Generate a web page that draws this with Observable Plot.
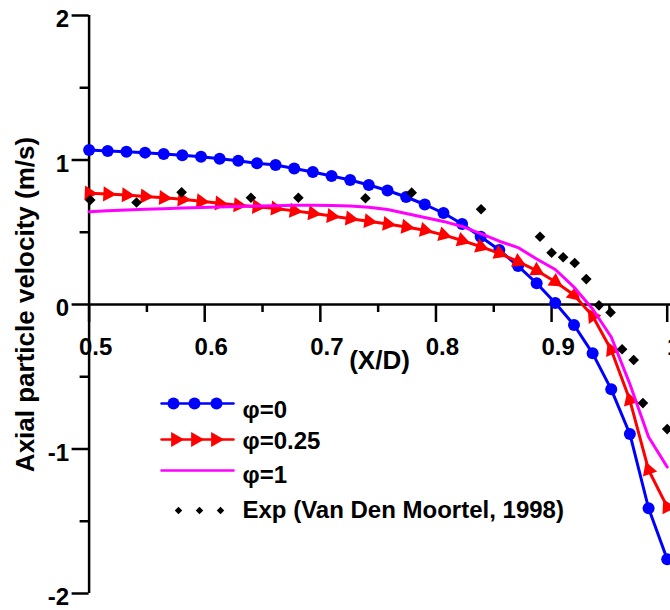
<!DOCTYPE html>
<html><head><meta charset="utf-8">
<script src="https://cdn.jsdelivr.net/npm/d3@7"></script>
<script src="https://cdn.jsdelivr.net/npm/@observablehq/plot@0.6"></script>
<style>
html,body{margin:0;padding:0;background:#fff;overflow:hidden;}
</style></head><body><div id="chart"></div>
<script>
// ---- data ----
const xGrid = [0.5, 0.5161, 0.5323, 0.5484, 0.5645, 0.5806, 0.5968, 0.6129, 0.6290, 0.6452, 0.6613, 0.6774, 0.6935, 0.7097, 0.7258, 0.7419, 0.7581, 0.7742, 0.7903, 0.8065, 0.8226, 0.8387, 0.8548, 0.8710, 0.8871, 0.9032, 0.9194, 0.9355, 0.9516, 0.9677, 0.9839, 1.0];
const phi0 = [1.069, 1.062, 1.057, 1.051, 1.042, 1.033, 1.023, 1.009, 0.995, 0.977, 0.965, 0.941, 0.917, 0.889, 0.862, 0.827, 0.789, 0.744, 0.692, 0.633, 0.557, 0.469, 0.377, 0.266, 0.147, 0.010, -0.142, -0.338, -0.587, -0.896, -1.410, -1.763];
const phi025 = [0.770, 0.764, 0.757, 0.748, 0.738, 0.728, 0.714, 0.700, 0.687, 0.676, 0.664, 0.648, 0.631, 0.612, 0.594, 0.576, 0.557, 0.537, 0.514, 0.482, 0.443, 0.400, 0.354, 0.296, 0.235, 0.158, 0.066, -0.080, -0.315, -0.661, -1.145, -1.401];
const phi1 = [0.642, 0.648, 0.654, 0.659, 0.663, 0.668, 0.671, 0.675, 0.678, 0.682, 0.684, 0.686, 0.687, 0.685, 0.682, 0.673, 0.657, 0.630, 0.602, 0.575, 0.540, 0.491, 0.438, 0.394, 0.315, 0.242, 0.120, -0.031, -0.225, -0.550, -0.917, -1.125];
const expX = [0.501, 0.541, 0.580, 0.640, 0.681, 0.739, 0.779, 0.839, 0.890, 0.900, 0.910, 0.920, 0.930, 0.941, 0.951, 0.961, 0.971, 0.979, 1.000];
const expV = [0.723, 0.706, 0.776, 0.739, 0.739, 0.735, 0.774, 0.659, 0.469, 0.358, 0.327, 0.287, 0.176, -0.006, -0.055, -0.310, -0.384, -0.682, -0.862];
const seriesNames = ["φ=0", "φ=0.25", "φ=1", "Exp (Van Den Moortel, 1998)"];
const seriesColors = ["#0000ff", "#ff0000", "#ff00ff", "#000000"];
const xTicks = [0.5, 0.6, 0.7, 0.8, 0.9, 1];
const xMinor = [0.55, 0.65, 0.75, 0.85, 0.95];
const yTicks = [-2, -1, 0, 1, 2];
const yMinor = [-1.5, -0.5, 0.5, 1.5];
const xTitle = "(X/D)";
const yTitle = "Axial particle velocity (m/s)";

// ---- layout ----
const W = 670, H = 610;
const mL = 88.6, mR = 3.3, mT = 15, mB = 17;
const pxX = (W - mL - mR) / 0.5;   // pixels per x unit
const pxY = (H - mT - mB) / 4;     // pixels per y unit
const y0px = mT + 2 * pxY;
const invX = px => 0.5 + (px - mL) / pxX;
const invY = py => (y0px - py) / pxY;

const blue = xGrid.map((x, i) => ({x, v: phi0[i]}));
const red = xGrid.map((x, i) => ({x, v: phi025[i]}));
const mag = xGrid.map((x, i) => ({x, v: phi1[i]}));
const exp = expX.map((x, i) => ({x, v: expV[i]}));

// orientation of red triangles along the curve
red.forEach((d, i) => {
  const p = red[Math.max(0, i - 1)], n = red[Math.min(red.length - 1, i + 1)];
  const dx = (n.x - p.x) * pxX, dy = -(n.v - p.v) * pxY;
  let a = Math.atan2(dx, -dy) * 180 / Math.PI;
  if (a > 135) a -= 180;
  d.rot = a;
});

// legend geometry (pixels)
const legRowY = [403, 439, 470, 510];
const legTextY = [417, 448, 482, 517];
const legX1 = 161, legX2 = 233, legTextX = 242;
const legMarkX = [[173, 194, 216], [175, 195, 215], [], [178, 199, 220]];
const legLines = [];
const legMarks = [];
seriesNames.forEach((s, k) => {
  if (k < 3) { legLines.push({k, x: invX(legX1), v: invY(legRowY[k])}, {k, x: invX(legX2), v: invY(legRowY[k])}); }
  legMarkX[k].forEach(px => legMarks.push({k, x: invX(px), v: invY(legRowY[k])}));
});
const legText = seriesNames.map((s, k) => ({s, x: invX(legTextX), v: invY(legTextY[k])}));

const font = {fontSize: 24, fontWeight: "bold", fill: "black"};
const plot = Plot.plot({
  width: W, height: H,
  marginLeft: mL, marginRight: mR, marginTop: mT, marginBottom: mB,
  x: {domain: [0.5, 1], axis: null},
  y: {domain: [-2, 2], axis: null},
  style: {fontFamily: "'Liberation Sans', Arial, Helvetica, sans-serif", background: "white", overflow: "visible"},
  marks: [
    // axes
    Plot.ruleX([0.5], {y1: -2, y2: 2, stroke: "black", strokeWidth: 2.5}),
    Plot.ruleY([0], {x1: 0.5, x2: 1.02, stroke: "black", strokeWidth: 2.5}),
    Plot.ruleY(yTicks, {y: d => d, x1: 0.5 - 17 / pxX, x2: 0.5, stroke: "black", strokeWidth: 2.5}),
    Plot.ruleY(yMinor, {y: d => d, x1: 0.5 - 9 / pxX, x2: 0.5, stroke: "black", strokeWidth: 2.5}),
    Plot.ruleX(xTicks, {x: d => d, y1: 0, y2: -18 / pxY, stroke: "black", strokeWidth: 2.5}),
    Plot.ruleX(xMinor, {x: d => d, y1: 0, y2: -8 / pxY, stroke: "black", strokeWidth: 2.5}),
    Plot.text(yTicks, {x: 0.5, y: d => d, text: d => String(d), textAnchor: "end", lineAnchor: "middle", dx: -20, dy: 4, ...font}),
    Plot.text(xTicks, {x: d => d, y: 0, text: d => String(d), textAnchor: "middle", lineAnchor: "bottom", dx: 6.5, dy: 50.5, ...font}),
    Plot.text([xTitle], {x: invX(379), y: 0, text: d => d, textAnchor: "middle", lineAnchor: "bottom", dy: 64.5, ...font, fontSize: 26}),
    Plot.text([yTitle], {frameAnchor: "left", text: d => d, rotate: -90, textAnchor: "middle", lineAnchor: "bottom", dx: 33 - mL, ...font, fontSize: 26}),
    // series
    Plot.line(blue, {x: "x", y: "v", stroke: seriesColors[0], strokeWidth: 3}),
    Plot.dot(blue, {x: "x", y: "v", r: 6, fill: seriesColors[0], stroke: "none"}),
    Plot.line(red, {x: "x", y: "v", stroke: seriesColors[1], strokeWidth: 3}),
    Plot.dot(red, {x: "x", y: "v", symbol: "triangle", r: 5.6, rotate: "rot", fill: seriesColors[1], stroke: "none"}),
    Plot.line(mag, {x: "x", y: "v", stroke: seriesColors[2], strokeWidth: 3}),
    Plot.dot(exp, {x: "x", y: "v", symbol: "diamond2", r: 4.8, fill: seriesColors[3], stroke: "none"}),
    // legend
    Plot.line(legLines, {x: "x", y: "v", z: "k", stroke: d => seriesColors[d.k], strokeWidth: 2.5}),
    Plot.dot(legMarks.filter(d => d.k === 0), {x: "x", y: "v", r: 6, fill: seriesColors[0], stroke: "none"}),
    Plot.dot(legMarks.filter(d => d.k === 1), {x: "x", y: "v", symbol: "triangle", r: 5.6, rotate: 90, fill: seriesColors[1], stroke: "none"}),
    Plot.dot(legMarks.filter(d => d.k === 3), {x: "x", y: "v", symbol: "diamond2", r: 3.4, fill: seriesColors[3], stroke: "none"}),
    Plot.text(legText, {x: "x", y: "v", text: "s", textAnchor: "start", lineAnchor: "bottom", ...font})
  ]
});
document.getElementById("chart").appendChild(plot);
</script></body></html>
